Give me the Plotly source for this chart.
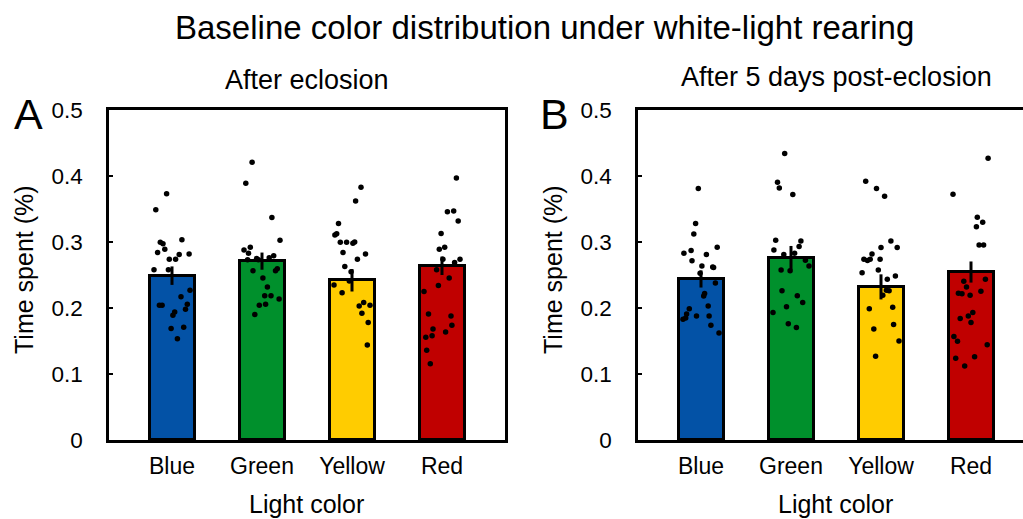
import plotly.graph_objects as go

categories = ["Blue", "Green", "Yellow", "Red"]
bar_colors = ["#0352A6", "#00902C", "#FFCC00", "#C00000"]
y_ticks = [0, 0.1, 0.2, 0.3, 0.4, 0.5]
y_tick_labels = ["0", "0.1", "0.2", "0.3", "0.4", "0.5"]

# Panel A: after eclosion
a_means = [0.249, 0.271, 0.242, 0.264]
a_sem = [0.014, 0.013, 0.017, 0.014]
a_blue = [0.373, 0.349, 0.2995, 0.2975, 0.3035, 0.284, 0.289, 0.281, 0.282, 0.274, 0.274, 0.258,
          0.258, 0.227, 0.217, 0.204, 0.204, 0.2055, 0.198, 0.194, 0.189, 0.169, 0.171, 0.1535]
a_blue_jit = [-0.06, -0.18, -0.13, -0.10, 0.11, -0.16, -0.08, 0.08, 0.19, -0.03, 0.04, -0.20,
              -0.04, 0.20, 0.10, -0.14, -0.11, 0.17, 0.15, 0.03, 0.01, -0.01, 0.13, 0.06]
a_green = [0.421, 0.389, 0.337, 0.3025, 0.288, 0.292, 0.283, 0.279, 0.276, 0.273, 0.275, 0.273,
           0.2565, 0.2595, 0.2565, 0.2455, 0.232, 0.2185, 0.2185, 0.2135, 0.204, 0.2055, 0.190]
a_green_jit = [-0.11, -0.18, 0.11, 0.20, -0.20, -0.13, -0.15, 0.13, 0.08, -0.16, -0.06, -0.04,
               -0.10, 0.17, 0.15, 0.01, 0.06, 0.03, 0.10, 0.19, -0.03, 0.04, -0.08]
a_yellow = [0.383, 0.362, 0.328, 0.3105, 0.3125, 0.2995, 0.2995, 0.298, 0.300, 0.284, 0.282, 0.274,
            0.263, 0.255, 0.241, 0.235, 0.223, 0.2085, 0.203, 0.204, 0.192, 0.178, 0.144]
a_yellow_jit = [0.10, 0.04, -0.15, -0.19, -0.17, -0.13, -0.06, 0.01, 0.03, -0.10, 0.15, 0.06,
                -0.08, -0.01, -0.03, -0.20, -0.11, 0.13, 0.08, 0.20, 0.11, 0.18, 0.17]
a_red = [0.397, 0.346, 0.347, 0.332, 0.313, 0.289, 0.292, 0.274, 0.269, 0.274, 0.258, 0.2455,
         0.234, 0.225, 0.191, 0.188, 0.174, 0.168, 0.158, 0.1555, 0.1635, 0.136, 0.1155]
a_red_jit = [0.16, 0.06, 0.13, 0.18, -0.01, -0.03, 0.03, 0.01, 0.14, 0.20, -0.06, 0.08,
             -0.04, -0.20, -0.15, 0.10, 0.11, -0.10, -0.11, -0.18, 0.04, -0.17, -0.13]

# Panel B: after 5 days post-eclosion
b_means = [0.244, 0.276, 0.232, 0.2545]
b_sem = [0.013, 0.018, 0.019, 0.016]
b_blue = [0.381, 0.328, 0.312, 0.283, 0.287, 0.281, 0.292, 0.2715, 0.2635, 0.262, 0.2615, 0.2525,
          0.238, 0.222, 0.218, 0.203, 0.199, 0.191, 0.188, 0.188, 0.183, 0.185, 0.174, 0.162]
b_blue_jit = [-0.03, -0.06, -0.08, -0.19, -0.11, 0.06, 0.18, -0.10, 0.01, 0.13, 0.14, -0.01,
              0.16, 0.04, 0.03, 0.08, -0.13, -0.16, -0.05, 0.09, -0.20, -0.17, 0.11, 0.20]
b_green = [0.434, 0.3905, 0.382, 0.372, 0.3025, 0.3015, 0.288, 0.293, 0.281, 0.283, 0.2725, 0.2635,
           0.2575, 0.2565, 0.226, 0.2185, 0.2085, 0.202, 0.193, 0.176, 0.1705]
b_green_jit = [-0.07, -0.15, -0.13, 0.02, -0.17, 0.11, -0.19, 0.09, -0.08, 0.04, 0.16, 0.20,
               -0.11, -0.01, -0.10, 0.07, 0.13, -0.05, -0.20, -0.03, 0.06]
b_yellow = [0.392, 0.381, 0.3695, 0.3015, 0.2915, 0.2915, 0.282, 0.274, 0.272, 0.274, 0.274, 0.2535,
            0.2575, 0.2485, 0.2435, 0.227, 0.226, 0.2195, 0.199, 0.201, 0.175, 0.168, 0.150, 0.127]
b_yellow_jit = [-0.17, -0.05, 0.04, 0.11, 0.00, 0.18, -0.10, -0.19, -0.15, -0.12, -0.01, -0.21,
                -0.03, 0.16, 0.07, 0.06, 0.09, 0.02, -0.13, 0.13, 0.14, -0.08, 0.20, -0.06]
b_red = [0.427, 0.3725, 0.3375, 0.330, 0.323, 0.2955, 0.2955, 0.2405, 0.2435, 0.232, 0.2225, 0.2215,
         0.2195, 0.2255, 0.193, 0.188, 0.184, 0.178, 0.157, 0.1495, 0.1445, 0.124, 0.126, 0.112]
b_red_jit = [0.19, -0.20, 0.07, 0.13, 0.06, 0.09, 0.14, -0.08, 0.16, -0.05, -0.14, -0.10,
             -0.01, 0.11, 0.02, -0.03, -0.12, 0.00, -0.19, -0.15, 0.18, -0.17, 0.04, -0.07]

title_text = "Baseline color distribution under white-light rearing"
panel_titles = ["After eclosion", "After 5 days post-eclosion"]
y_title = "Time spent (%)"
x_title = "Light color"

W, H = 1023, 519
FONT = "Liberation Sans, Arial, sans-serif"

fig = go.Figure()

panels = [
    ("x", "y", a_means, a_sem, [(a_blue, a_blue_jit), (a_green, a_green_jit), (a_yellow, a_yellow_jit), (a_red, a_red_jit)]),
    ("x2", "y2", b_means, b_sem, [(b_blue, b_blue_jit), (b_green, b_green_jit), (b_yellow, b_yellow_jit), (b_red, b_red_jit)]),
]
pos = [1, 2, 3, 4]
for xa, ya, means, sem, pts in panels:
    fig.add_trace(go.Bar(
        x=pos, y=means, width=0.5, xaxis=xa, yaxis=ya,
        marker=dict(color=bar_colors, line=dict(color="black", width=3)),
        error_y=dict(type="data", array=sem, visible=True, color="black", thickness=3, width=0),
        showlegend=False, hoverinfo="skip"))
    for i, (vals, jit) in enumerate(pts):
        fig.add_trace(go.Scatter(
            x=[pos[i] + j for j in jit], y=vals, mode="markers", xaxis=xa, yaxis=ya,
            marker=dict(color="black", size=5.5, line=dict(width=0)), showlegend=False, hoverinfo="skip"))

y_top = 1 - 110 / H
y_bot = 1 - 440 / H
common_x = dict(tickmode="array", tickvals=pos, ticktext=categories, ticks="",
                showline=True, linecolor="black", linewidth=2.5, mirror=True,
                showgrid=False, zeroline=False, automargin=False,
                tickfont=dict(family=FONT, size=23, color="black"), ticklabelstandoff=4)
common_y = dict(range=[0, 0.5], tickmode="array", tickvals=y_ticks, ticktext=y_tick_labels,
                ticks="inside", ticklen=4, tickwidth=1.5, tickcolor="black",
                showline=True, linecolor="black", linewidth=2.5, automargin=False,
                showgrid=False, zeroline=False, domain=[y_bot, y_top],
                tickfont=dict(family=FONT, size=22.5, color="black"), ticklabelstandoff=19)

fig.update_layout(
    width=W, height=H,
    margin=dict(l=0, r=0, t=0, b=0, pad=0, autoexpand=False),
    plot_bgcolor="white", paper_bgcolor="white",
    xaxis=dict(domain=[109 / W, 505 / W], range=[0.3, 4.7], **common_x),
    yaxis=dict(anchor="x", mirror=True, **common_y),
    xaxis2=dict(domain=[638 / W, 1.0], range=[0.3, 0.3 + (W - 638) / 90], anchor="y2", **common_x),
    yaxis2=dict(anchor="x2", mirror=False, **common_y),
    bargap=0,
)

def px(xp, yp):
    return xp / W, 1 - yp / H

anns = [
    (title_text, 544, 27, 33, 0),
    (panel_titles[0], 307, 80, 27, 0),
    (panel_titles[1], 836, 77, 27, 0),
    ("A", 28, 114, 43, 0),
    ("B", 554, 114, 43, 0),
    (y_title, 24, 270, 25, -90),
    (y_title, 553, 270, 25, -90),
    (x_title, 306, 504, 25, 0),
    (x_title, 835, 504, 25, 0),
]
for text, xp, yp, size, ang in anns:
    ax_, ay_ = px(xp, yp)
    fig.add_annotation(text=text, x=ax_, y=ay_, xref="paper", yref="paper",
                       xanchor="center", yanchor="middle", showarrow=False, textangle=ang,
                       font=dict(family=FONT, size=size, color="black"))

fig.write_html("out.html", config={"displayModeBar": False},
               post_script="document.body.style.margin='0';document.body.style.overflow='hidden';")
